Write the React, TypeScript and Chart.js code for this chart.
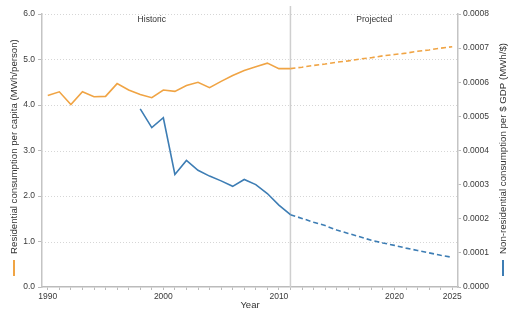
import { useEffect, useRef } from "react";
import { Chart, registerables } from "chart.js";

Chart.register(...registerables);

// ---- Data ----
const historicYears = [1990, 1991, 1992, 1993, 1994, 1995, 1996, 1997, 1998, 1999, 2000, 2001, 2002, 2003, 2004, 2005, 2006, 2007, 2008, 2009, 2010, 2011];
const residentialHistoric = [4.21, 4.29, 4.01, 4.29, 4.18, 4.19, 4.47, 4.33, 4.23, 4.16, 4.33, 4.30, 4.43, 4.50, 4.38, 4.52, 4.65, 4.76, 4.84, 4.92, 4.80, 4.80];

const nonResHistoricYears = [1998, 1999, 2000, 2001, 2002, 2003, 2004, 2005, 2006, 2007, 2008, 2009, 2010, 2011];
const nonResidentialHistoric = [0.000522, 0.000467, 0.000496, 0.00033, 0.000371, 0.000342, 0.000325, 0.000311, 0.000295, 0.000315, 0.0003, 0.000274, 0.00024, 0.000212];

const projectedYears = [2011, 2012, 2013, 2014, 2015, 2016, 2017, 2018, 2019, 2020, 2021, 2022, 2023, 2024, 2025];
const residentialProjected = [4.80, 4.83, 4.87, 4.90, 4.94, 4.97, 5.01, 5.04, 5.08, 5.11, 5.14, 5.18, 5.21, 5.25, 5.28];
const nonResidentialProjected = [0.000212, 0.000201, 0.00019, 0.00018, 0.000167, 0.000157, 0.000147, 0.000137, 0.000129, 0.000122, 0.000114, 0.000107, 0.0001, 0.000093, 0.000087];

const xLabelYears = [1990, 2000, 2010, 2020, 2025];
const leftTicks = [0, 1, 2, 3, 4, 5, 6];
const rightTicks = [0, 0.0001, 0.0002, 0.0003, 0.0004, 0.0005, 0.0006, 0.0007, 0.0008];
const dividerYear = 2011;
const sectionLabels = ["Historic", "Projected"];
const sectionLabelYears = [1999, 2018.25];
const leftTitle = "Residential consumption per capita (MWh/person)";
const rightTitle = "Non-residential consumption per $ GDP (MWh/$)";
const xTitle = "Year";

const ORANGE = "#F0A444";
const BLUE = "#3D7DB4";
const FONT = "'Liberation Sans', Arial, Helvetica, sans-serif";

const toPoints = (xs: number[], ys: number[]) => xs.map((x, i) => ({ x, y: ys[i] }));

const overlayPlugin = {
  id: "overlay",
  beforeDatasetsDraw(chart: any) {
    const { ctx, chartArea: a, scales } = chart;
    ctx.save();
    ctx.strokeStyle = "#d6d6d6";
    ctx.lineWidth = 1;
    ctx.setLineDash([1, 2]);
    for (const v of leftTicks) {
      if (v === 0) continue;
      const py = Math.round(scales.y.getPixelForValue(v)) + 0.5;
      ctx.beginPath();
      ctx.moveTo(a.left, py);
      ctx.lineTo(a.right, py);
      ctx.stroke();
    }
    ctx.setLineDash([]);
    const dx = scales.x.getPixelForValue(dividerYear);
    ctx.strokeStyle = "#cfcfcf";
    ctx.lineWidth = 1.5;
    ctx.beginPath();
    ctx.moveTo(dx, 6);
    ctx.lineTo(dx, a.bottom);
    ctx.stroke();
    ctx.restore();
  },
  afterDraw(chart: any) {
    const { ctx, chartArea: a, scales } = chart;
    ctx.save();
    ctx.fillStyle = "#333";
    ctx.font = `8.5px ${FONT}`;
    ctx.textAlign = "center";
    ctx.textBaseline = "middle";
    sectionLabels.forEach((t, i) => {
      ctx.fillText(t, scales.x.getPixelForValue(sectionLabelYears[i]), 20);
    });
    ctx.font = `9.5px ${FONT}`;
    ctx.fillText(xTitle, (a.left + a.right) / 2, 305);

    const drawTitle = (text: string, cx: number, color: string) => {
      ctx.save();
      ctx.translate(cx, 254);
      ctx.rotate(-Math.PI / 2);
      ctx.textAlign = "left";
      ctx.textBaseline = "middle";
      ctx.fillStyle = "#333";
      ctx.font = `9.7px ${FONT}`;
      ctx.fillText(text, 0, 0);
      ctx.restore();
      ctx.save();
      ctx.strokeStyle = color;
      ctx.lineWidth = 2;
      ctx.beginPath();
      ctx.moveTo(cx, 260);
      ctx.lineTo(cx, 276);
      ctx.stroke();
      ctx.restore();
    };
    drawTitle(leftTitle, 14, ORANGE);
    drawTitle(rightTitle, 503, BLUE);
    ctx.restore();
  },
};

export default function App() {
  const ref = useRef<HTMLCanvasElement | null>(null);

  useEffect(() => {
    if (!ref.current) return;
    const tickFont = { family: FONT, size: 8.5 };
    const chart = new Chart(ref.current, {
      type: "line",
      data: {
        datasets: [
          {
            data: toPoints(historicYears, residentialHistoric),
            borderColor: ORANGE,
            borderWidth: 1.6,
            pointRadius: 0,
            yAxisID: "y",
          },
          {
            data: toPoints(projectedYears, residentialProjected),
            borderColor: ORANGE,
            borderWidth: 1.6,
            borderDash: [5, 3],
            pointRadius: 0,
            yAxisID: "y",
          },
          {
            data: toPoints(nonResHistoricYears, nonResidentialHistoric),
            borderColor: BLUE,
            borderWidth: 1.6,
            pointRadius: 0,
            yAxisID: "y1",
          },
          {
            data: toPoints(projectedYears, nonResidentialProjected),
            borderColor: BLUE,
            borderWidth: 1.6,
            borderDash: [5, 3],
            pointRadius: 0,
            yAxisID: "y1",
          },
        ],
      },
      options: {
        animation: false,
        responsive: false,
        layout: { padding: { top: 14, left: 0, right: 0, bottom: 0 } },
        plugins: { legend: { display: false }, tooltip: { enabled: false } },
        scales: {
          x: {
            type: "linear",
            min: 1989.5,
            max: 2025.5,
            afterBuildTicks: (scale: any) => {
              const t = [];
              for (let v = 1990; v <= 2025; v++) t.push({ value: v });
              scale.ticks = t;
            },
            afterFit: (scale: any) => {
              scale.height = 25;
            },
            ticks: {
              autoSkip: false,
              maxRotation: 0,
              padding: 2,
              color: "#3a3a3a",
              font: tickFont,
              callback: (v: any) => (xLabelYears.includes(Number(v)) ? String(v) : ""),
            },
            grid: { drawOnChartArea: false, drawTicks: true, tickLength: 3, color: "#bbb" },
            border: { color: "#bbb", width: 1.5 },
          },
          y: {
            type: "linear",
            position: "left",
            min: 0,
            max: 6,
            afterBuildTicks: (scale: any) => {
              scale.ticks = leftTicks.map((v) => ({ value: v }));
            },
            afterFit: (scale: any) => {
              scale.width = 42;
            },
            ticks: {
              padding: 3,
              color: "#3a3a3a",
              font: tickFont,
              callback: (v: any) => Number(v).toFixed(1),
            },
            grid: { drawOnChartArea: false, drawTicks: true, tickLength: 4, color: "#bbb" },
            border: { color: "#c4c4c4", width: 1.5 },
          },
          y1: {
            type: "linear",
            position: "right",
            min: 0,
            max: 0.0008,
            afterBuildTicks: (scale: any) => {
              scale.ticks = rightTicks.map((v) => ({ value: v }));
            },
            afterFit: (scale: any) => {
              scale.width = 50;
            },
            ticks: {
              padding: 2,
              color: "#3a3a3a",
              font: tickFont,
              callback: (v: any) => Number(v).toFixed(4),
            },
            grid: { drawOnChartArea: false, drawTicks: true, tickLength: 3, color: "#bbb" },
            border: { color: "#c4c4c4", width: 1.5 },
          },
        },
      },
      plugins: [overlayPlugin],
    } as any);
    return () => chart.destroy();
  }, []);

  return (
    <div style={{ position: "fixed", left: 0, top: 0, width: 508, height: 312, background: "#fff" }}>
      <canvas ref={ref} width={508} height={312} style={{ display: "block" }} />
    </div>
  );
}
